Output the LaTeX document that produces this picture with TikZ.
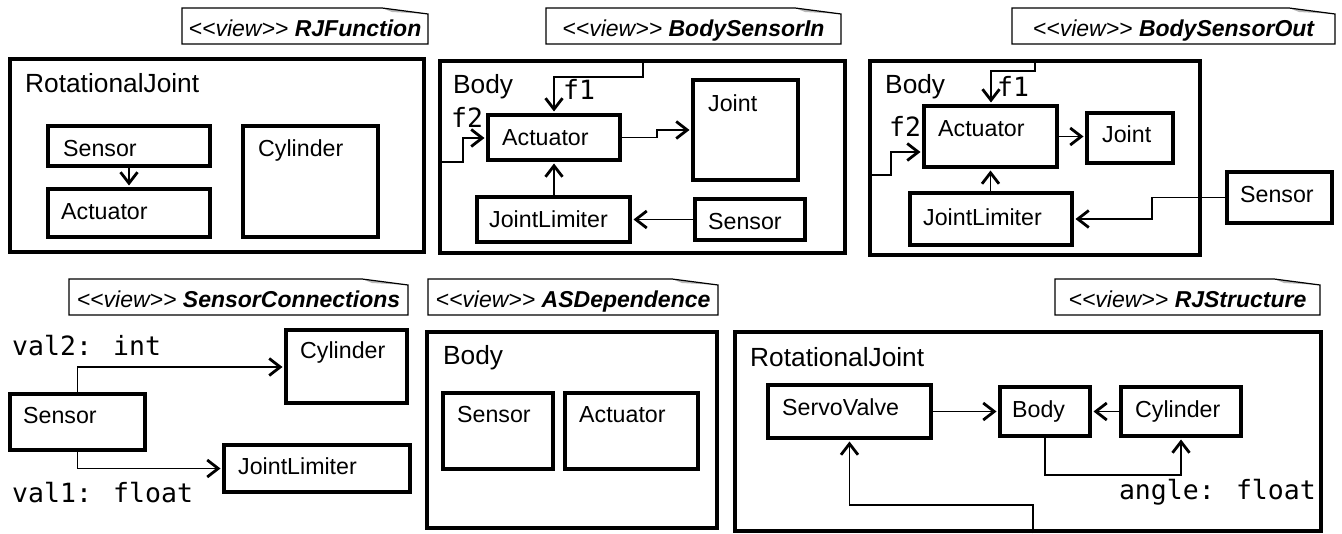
\documentclass[tikz,border=0pt]{standalone}
\usepackage{fontspec}
\setmainfont{Liberation Sans}
\newfontfamily\monof{DejaVu Sans Mono}
\usetikzlibrary{arrows.meta,fit}
\tikzset{
  outerbox/.style={draw, line width=4.5pt, inner sep=0pt},
  innerbox/.style={draw, line width=4pt, inner sep=0pt},
  conn/.style={line width=1.6pt, shorten >=1.5pt, -{Straight Barb[length=11pt,width=17pt,line width=2.8pt]}},
  lbl/.style={anchor=base west, inner sep=0pt, font=\fontsize{23.2}{25}\selectfont},
  ttl/.style={anchor=base west, inner sep=0pt, font=\fontsize{26.3}{28}\selectfont},
  mono/.style={anchor=base west, inner sep=0pt, font=\monof\fontsize{26.5}{28}\selectfont},
  tagtxt/.style={anchor=base, inner sep=0pt, font=\fontsize{23}{24}\selectfont},
  tagline/.style={line width=1.2pt},
}
\newcommand\viewtag[6]{%
  \fill[gray!55] (#4-46,#3) -- (#4-36,#3+4) -- (#4,#3+6) -- cycle;
  \draw[tagline] (#2,#3) -- (#4-46,#3) -- (#4,#3+6) -- (#4,#5) -- (#2,#5) -- cycle;
  \node[tagtxt] (#1) at ({(#2+#4)/2},#5-7) {\itshape <\kern0pt<view>\kern0pt> \bfseries #6};
}
\begin{document}
\begin{tikzpicture}[x=1pt,y=-1pt]
\useasboundingbox[fill=white] (0,0) rectangle (1342,534);

% ---------- Panel 1: RJFunction ----------
\viewtag{tag1}{182}{8}{428}{44}{RJFunction}
\node[outerbox, fit={(10,59) (424,252)}] (p1outer) {};
\node[ttl] (p1title) at (25,93) {RotationalJoint};
\node[innerbox, fit={(48,126) (210,166)}] (p1sen) {};
\node[lbl] (p1senT) at (63,157) {Sensor};
\node[innerbox, fit={(48,189) (210,237)}] (p1act) {};
\node[lbl] (p1actT) at (61,220) {Actuator};
\node[innerbox, fit={(243,126) (378,237)}] (p1cyl) {};
\node[lbl] (p1cylT) at (258,157) {Cylinder};
\draw[conn] (p1sen.south) -- (p1act.north);

% ---------- Panel 2: BodySensorIn ----------
\viewtag{tag2}{546}{8}{841}{44}{BodySensorIn}
\node[outerbox, fit={(440,61) (845,253)}] (p2outer) {};
\node[ttl] (p2title) at (453,94) {Body};
\node[innerbox, fit={(488,115) (620,160)}] (p2act) {};
\node[lbl] (p2actT) at (502,146) {Actuator};
\node[innerbox, fit={(693,80) (798,180)}] (p2joint) {};
\node[lbl] (p2jointT) at (708,112) {Joint};
\node[innerbox, fit={(477,197) (630,242)}] (p2jl) {};
\node[lbl] (p2jlT) at (489,228) {JointLimiter};
\node[innerbox, fit={(695,199) (805,240)}] (p2sen) {};
\node[lbl] (p2senT) at (708,230) {Sensor};
\coordinate (p2f1s) at (643,61);
\coordinate (p2f1a) at (643,77);
\coordinate (p2f1b) at (554,77);
\draw[conn] (p2f1s) -- (p2f1a) -- (p2f1b) -- (p2act.north);
\node[mono] (p2f1) at (563,100) {f1};
\coordinate (p2f2s) at (440,162);
\coordinate (p2f2a) at (463,162);
\coordinate (p2f2b) at (463,138);
\draw[conn] (p2f2s) -- (p2f2a) -- (p2f2b) -- (p2act.west |- p2f2b);
\node[mono] (p2f2) at (451,128) {f2};
\coordinate (p2aj1) at (657,137.5);
\coordinate (p2aj2) at (657,130);
\draw[conn] (p2act.east) -- (p2aj1) -- (p2aj2) -- (p2joint.west);
\draw[conn] (p2jl.north -| p2act.south) -- (p2act.south);
\draw[conn] (p2sen.west) -- (p2jl.east);

% ---------- Panel 3: BodySensorOut ----------
\viewtag{tag3}{1012}{8}{1335}{44}{BodySensorOut}
\node[outerbox, fit={(870,61) (1200,255)}] (p3outer) {};
\node[ttl] (p3title) at (885,94) {Body};
\node[innerbox, fit={(924,106) (1057,167)}] (p3act) {};
\node[lbl] (p3actT) at (938,137) {Actuator};
\node[innerbox, fit={(1087,113) (1173,163)}] (p3joint) {};
\node[lbl] (p3jointT) at (1102,143) {Joint};
\node[innerbox, fit={(910,193) (1072,245)}] (p3jl) {};
\node[lbl] (p3jlT) at (923,226) {JointLimiter};
\node[innerbox, fit={(1227,172) (1332,223)}] (p3sen) {};
\node[lbl] (p3senT) at (1240,203) {Sensor};
\coordinate (p3f1s) at (1035,61);
\coordinate (p3f1a) at (1035,71);
\coordinate (p3f1b) at (991,71);
\draw[conn] (p3f1s) -- (p3f1a) -- (p3f1b) -- (p3act.north -| p3f1b);
\node[mono] (p3f1) at (997,97) {f1};
\coordinate (p3f2s) at (870,175);
\coordinate (p3f2a) at (891,175);
\coordinate (p3f2b) at (891,152);
\draw[conn] (p3f2s) -- (p3f2a) -- (p3f2b) -- (p3act.west |- p3f2b);
\node[mono] (p3f2) at (889,137) {f2};
\draw[conn] (p3act.east) -- (p3joint.west |- p3act.east);
\draw[conn] (p3jl.north -| p3act.south) -- (p3act.south);
\coordinate (p3s1) at (1152,197.5);
\coordinate (p3s2) at (1152,219);
\draw[conn] (p3sen.west) -- (p3s1) -- (p3s2) -- (p3jl.east);

% ---------- Panel 4: SensorConnections ----------
\viewtag{tag4}{69}{279}{408}{315}{SensorConnections}
\node[mono] (p4val2) at (12,356) {val2: int};
\node[innerbox, fit={(286,330) (407,403)}] (p4cyl) {};
\node[lbl] (p4cylT) at (300,359) {Cylinder};
\node[innerbox, fit={(10,394) (145,450)}] (p4sen) {};
\node[lbl] (p4senT) at (23,424) {Sensor};
\node[innerbox, fit={(224,445) (410,492)}] (p4jl) {};
\node[lbl] (p4jlT) at (238,475) {JointLimiter};
\coordinate (p4a) at (77.5,367);
\draw[conn] (p4sen.north) -- (p4a) -- (p4cyl.west |- p4a);
\draw[conn] (p4sen.south) |- (p4jl.west);
\node[mono] (p4val1) at (12,503) {val1: float};

% ---------- Panel 5: ASDependence ----------
\viewtag{tag5}{428}{279}{718}{315}{ASDependence}
\node[outerbox, fit={(427,332) (717,528)}] (p5outer) {};
\node[ttl] (p5title) at (443,365) {Body};
\node[innerbox, fit={(443,393) (553,469)}] (p5sen) {};
\node[lbl] (p5senT) at (457,423) {Sensor};
\node[innerbox, fit={(565,393) (698,469)}] (p5act) {};
\node[lbl] (p5actT) at (579,423) {Actuator};

% ---------- Panel 6: RJStructure ----------
\viewtag{tag6}{1055}{279}{1320}{315}{RJStructure}
\node[outerbox, fit={(735,332) (1321,531)}] (p6outer) {};
\node[ttl] (p6title) at (750,367) {RotationalJoint};
\node[innerbox, fit={(768,385) (931,438)}] (p6sv) {};
\node[lbl] (p6svT) at (782,416) {ServoValve};
\node[innerbox, fit={(1000,387) (1090,436)}] (p6body) {};
\node[lbl] (p6bodyT) at (1012,418) {Body};
\node[innerbox, fit={(1121,387) (1241,436)}] (p6cyl) {};
\node[lbl] (p6cylT) at (1135,418) {Cylinder};
\draw[conn] (p6sv.east) -- (p6body.west);
\draw[conn] (p6cyl.west) -- (p6body.east);
\coordinate (p6b1) at (1045,475);
\draw[conn] (p6body.south -| p6b1) -- (p6b1) -- (p6cyl.south |- p6b1) -- (p6cyl.south);
\coordinate (p6o1) at (1033,505);
\draw[conn] (p6outer.south -| p6o1) -- (p6o1) -- (p6sv.south |- p6o1) -- (p6sv.south);
\node[mono, anchor=base east] (p6angle) at (1316,500) {angle: float};
\end{tikzpicture}
\end{document}
